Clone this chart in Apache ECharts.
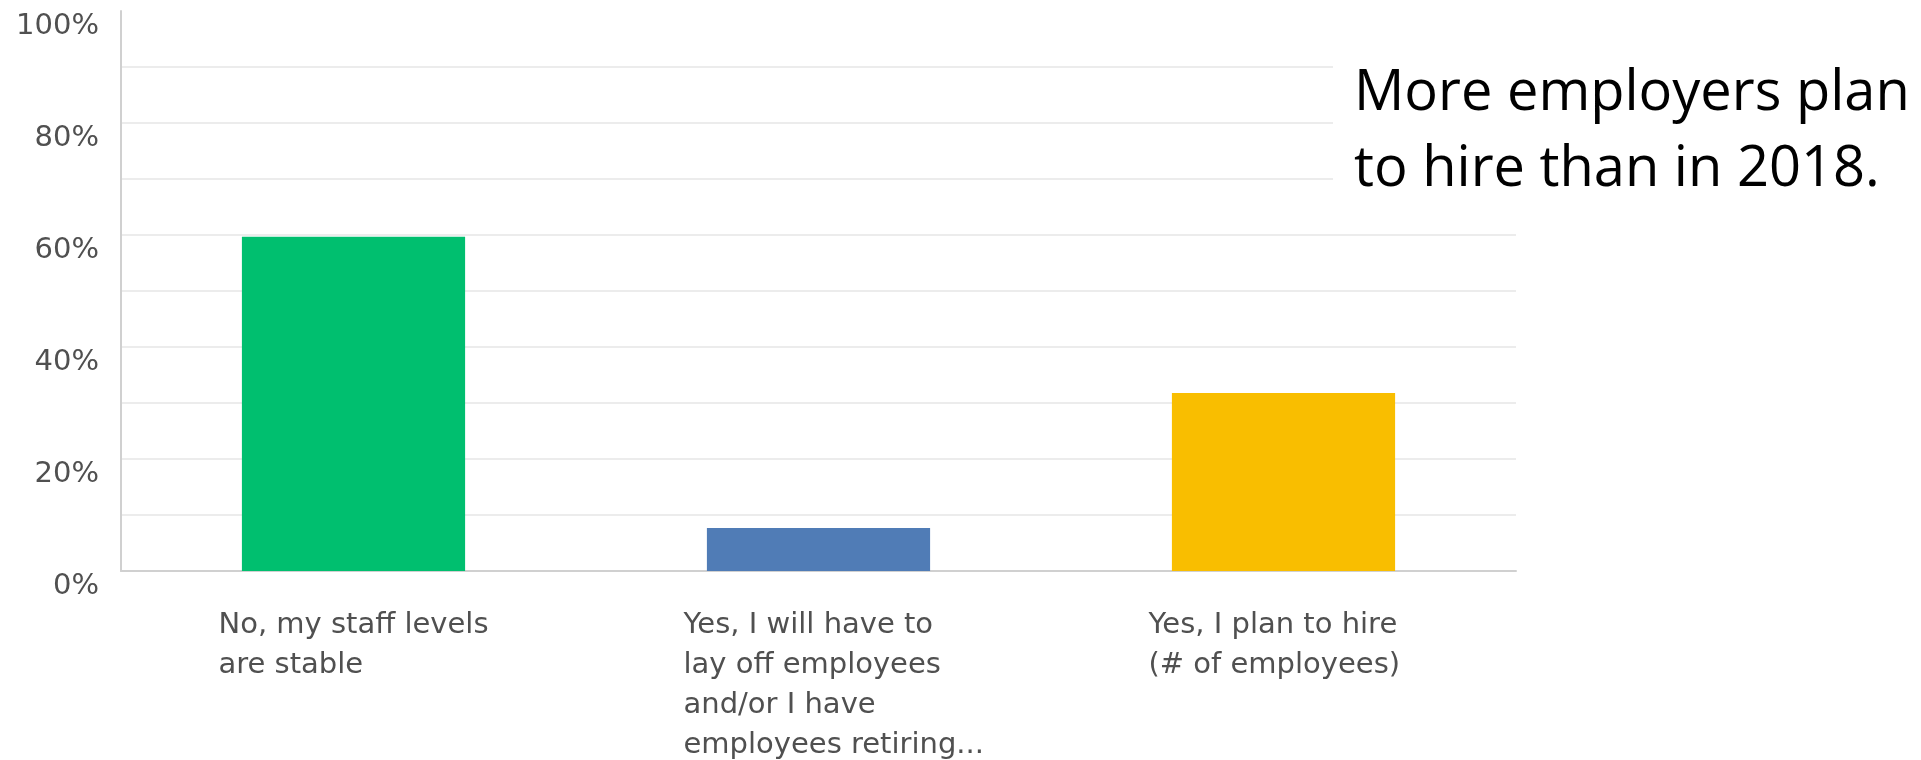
<!DOCTYPE html>
<html>
<head>
<meta charset="utf-8">
<script src="https://cdn.jsdelivr.net/npm/echarts@6/dist/echarts.min.js"></script>
<style>
html,body{margin:0;padding:0;background:#fff;}
#chart{width:1921px;height:760px;}
</style>
</head>
<body>
<div id="chart"></div>
<script>
const categories = [
  "No, my staff levels\nare stable",
  "Yes, I will have to\nlay off employees\nand/or I have\nemployees retiring...",
  "Yes, I plan to hire\n(# of employees)"
];
const values = [59.7, 7.7, 31.8];
const barColors = ["#00BF6F", "#507CB6", "#F9BE00"];
const annotationLines = ["More employers plan", "to hire than in 2018."];

const chart = echarts.init(document.getElementById('chart'));
const gridColors = [];
for (let i = 0; i <= 10; i++) gridColors.push(i === 10 ? 'rgba(0,0,0,0)' : '#ececec');

chart.setOption({
  animation: false,
  grid: { left: 121, right: 405, top: 11, bottom: 189, containLabel: false },
  xAxis: {
    type: 'category',
    data: categories,
    axisLine: { show: true, lineStyle: { color: '#d0d0d0', width: 2 } },
    axisTick: { show: false },
    axisLabel: {
      interval: 0,
      margin: 34,
      formatter: function (v) { return v.split('\n').map(l => '{a|' + l + '}').join('\n'); },
      rich: {
        a: { width: 270, align: 'left', fontFamily: '"DejaVu Sans"', fontSize: 29, lineHeight: 40, color: '#505050' }
      }
    }
  },
  yAxis: {
    type: 'value',
    min: 0, max: 100, interval: 10,
    axisLine: { show: true, lineStyle: { color: '#d0d0d0', width: 2 } },
    axisTick: { show: false },
    splitLine: { show: true, lineStyle: { color: gridColors, width: 2 } },
    axisLabel: {
      margin: 22,
      fontFamily: '"DejaVu Sans"', fontSize: 29, color: '#505050',
      verticalAlign: 'top', lineHeight: 30,
      formatter: function (v) { return v % 20 === 0 ? v + '%' : ''; }
    }
  },
  series: [{
    type: 'bar',
    barWidth: '48%',
    data: values.map((v, i) => ({ value: v, itemStyle: { color: barColors[i] } }))
  }],
  graphic: [
    { type: 'rect', left: 1333, top: 0, z: 10, shape: { width: 588, height: 210 }, style: { fill: '#ffffff' } },
    { type: 'text', left: 1354, top: 56, z: 11,
      style: { text: annotationLines.join('\n'), font: '56px "Open Sans"', lineHeight: 76, fill: '#000000' } }
  ]
});
</script>
</body>
</html>
